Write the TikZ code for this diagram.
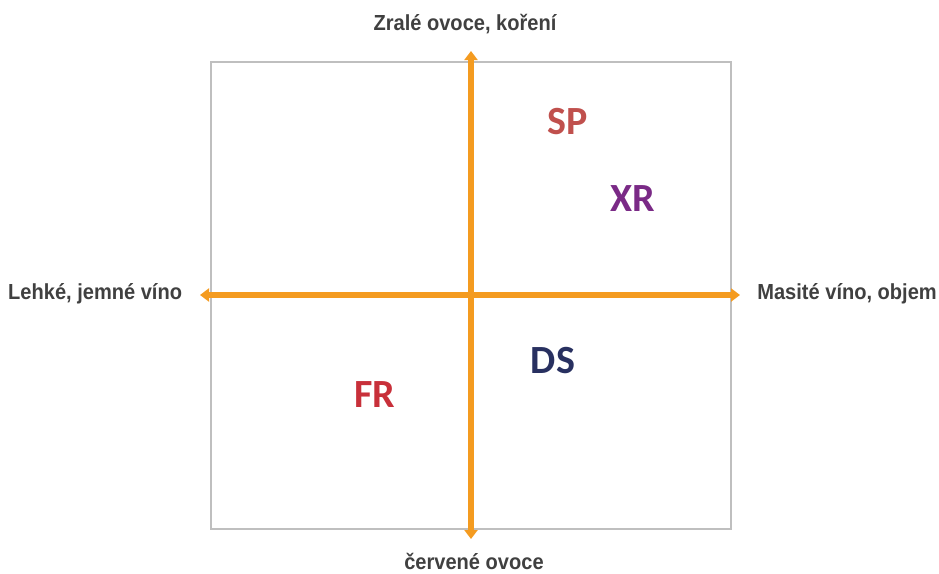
\documentclass[tikz,border=0pt]{standalone}
\usepackage{fontspec}
\setmainfont{Liberation Sans}
\newfontfamily\labfont[FakeStretch=0.92]{Liberation Sans}
\newfontfamily\tagfont{Carlito}
\usetikzlibrary{arrows.meta}
\definecolor{axisorange}{RGB}{244,155,32}
\definecolor{boxgray}{RGB}{191,191,191}
\definecolor{labgray}{RGB}{64,64,64}
\definecolor{spcol}{RGB}{192,80,77}
\definecolor{xrcol}{RGB}{122,42,134}
\definecolor{dscol}{RGB}{40,48,96}
\definecolor{frcol}{RGB}{200,48,58}
\begin{document}
\begin{tikzpicture}[x=1pt,y=-1pt,
  axislabel/.style={font=\labfont\bfseries\fontsize{21.8}{23}\selectfont, text=labgray, inner sep=0pt},
  tag/.style={font=\tagfont\bfseries\fontsize{40}{44}\selectfont, inner sep=0pt},
  axis/.style={draw=axisorange, line width=6.5pt, -{Triangle[width=13pt,length=9pt]}}]
\useasboundingbox (0,0) rectangle (939,573);
\node[draw=boxgray, line width=2pt, minimum width=520pt, minimum height=467pt, inner sep=0pt] (box) at (471,295) {};
\coordinate (c) at (471,295);
\coordinate (up) at (471,51);
\coordinate (down) at (471,539);
\coordinate (left) at (200,295);
\coordinate (right) at (740,295);
\draw[axis] (c) -- (up);
\draw[axis] (c) -- (down);
\draw[axis] (c) -- (left);
\draw[axis] (c) -- (right);
\node[axislabel] (ltop) at (465,24) {Zralé ovoce, koření};
\node[axislabel] (lbot) at (474,561) {červené ovoce};
\node[axislabel, anchor=west] (lleft) at (8,294) {Lehké, jemné víno};
\node[axislabel, anchor=east] (lright) at (937,294) {Masité víno, objem};
\node[tag, text=spcol] (sp) at (568,122) {SP};
\node[tag, text=xrcol] (xr) at (633,199) {XR};
\node[tag, text=dscol] (ds) at (553,361) {DS};
\node[tag, text=frcol] (fr) at (375,395) {FR};
\end{tikzpicture}
\end{document}
